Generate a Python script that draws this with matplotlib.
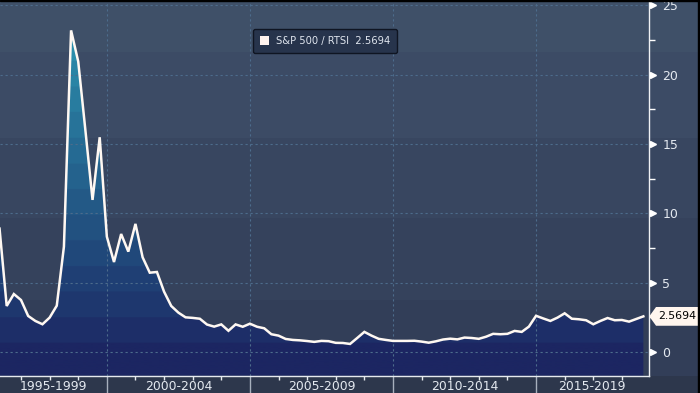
import numpy as np
import pandas as pd
import matplotlib
matplotlib.use('Agg')
import matplotlib.pyplot as plt
from matplotlib.path import Path
from matplotlib.patches import Patch, Rectangle
from matplotlib.ticker import MultipleLocator, FixedLocator, NullFormatter

# quarterly ratio S&P 500 / RTSI, 1996Q2 .. 2018Q4
quarters = pd.period_range('1996Q2', '2018Q4', freq='Q')
ratio = [8.9, 3.32, 4.18, 3.75, 2.60, 2.24, 2.00, 2.48, 3.34, 7.60,
         23.2, 20.95, 16.0, 10.97, 15.49, 8.32, 6.49, 8.51, 7.24, 9.24,
         6.83, 5.72, 5.77, 4.35, 3.32, 2.84, 2.50, 2.46, 2.40, 1.98,
         1.83, 1.99, 1.53, 1.99, 1.82, 2.04, 1.82, 1.71, 1.28, 1.18,
         0.94, 0.87, 0.84, 0.79, 0.73, 0.80, 0.78, 0.66, 0.65, 0.58,
         1.01, 1.45, 1.18, 0.95, 0.87, 0.80, 0.80, 0.80, 0.81, 0.75,
         0.67, 0.77, 0.90, 0.96, 0.91, 1.04, 1.01, 0.95, 1.10, 1.31,
         1.28, 1.31, 1.52, 1.45, 1.83, 2.61, 2.42, 2.24, 2.48, 2.79,
         2.40, 2.36, 2.29, 2.00, 2.24, 2.45, 2.29, 2.31, 2.19, 2.38,
         2.5694]
period_labels = ['1995-1999', '2000-2004', '2005-2009', '2010-2014', '2015-2019']
period_starts = [1995, 2000, 2005, 2010, 2015]
series_name = 'S&P 500 / RTSI'

x = np.array([p.year + (p.quarter - 1) / 4 for p in quarters])
y = np.array(ratio)
last = ratio[-1]

XMIN, XMAX = 1996.266, 2018.93
YMIN, YMAX = -1.71, 25.39

plt.rcParams['font.family'] = 'DejaVu Sans'
fig = plt.figure(figsize=(7, 3.93), dpi=100)

# banded background over the whole figure
bg = fig.add_axes([0, 0, 1, 1], zorder=-10)
bg.set_axis_off()
H = 393
rows = np.zeros((H, 1, 3))
bg_bands = [(0, 52, (63, 80, 104)), (52, 138, (60, 75, 101)), (138, 218, (56, 70, 96)),
            (218, 300, (53, 66, 92)), (300, 376, (50, 62, 88)), (376, 393, (45, 55, 76))]
for a, b, c in bg_bands:
    rows[a:b, 0, :] = np.array(c) / 255
bg.imshow(rows, extent=[0, 1, 0, 1], aspect='auto', origin='upper')
bg.set_xlim(0, 1)
bg.set_ylim(0, 1)
fig.patches.append(Rectangle((697.5 / 700, 0), 2.5 / 700, 1, transform=fig.transFigure,
                             color='black', zorder=5))
fig.patches.append(Rectangle((0, 392 / 393), 1, 1 / 393, transform=fig.transFigure,
                             color='black', zorder=5))

ax = fig.add_axes([0, 17.3 / 393, 648.5 / 700, 375.7 / 393])
ax.patch.set_alpha(0)
ax.set_xlim(XMIN, XMAX)
ax.set_ylim(YMIN, YMAX)

# area fill: horizontal banded gradient clipped by the series polygon
poly = ax.fill_between(x, y, YMIN, facecolor='none', edgecolor='none')
ny = 800
vals = np.linspace(YMIN, YMAX, ny)
band = np.where(vals < 0.67, 0, np.floor((vals - 0.67) / 1.85) + 1)
c_lo = np.array([28, 38, 98]) / 255
c_hi = np.array([44, 150, 178]) / 255
frac = np.clip(band / 13.0, 0, 1)
grad = (c_lo[None, :] * (1 - frac[:, None]) + c_hi[None, :] * frac[:, None])[:, None, :]
im = ax.imshow(grad, extent=[XMIN, XMAX, YMIN, YMAX], aspect='auto', origin='lower', zorder=1)
im.set_clip_path(poly.get_paths()[0], ax.transData)

ax.plot(x, y, color='#fff8f2', lw=1.8, zorder=3, solid_joinstyle='miter')

# grid
ax.set_axisbelow('line')
ax.yaxis.set_major_locator(MultipleLocator(5))
ax.yaxis.set_minor_locator(MultipleLocator(2.5))
ax.xaxis.set_major_locator(FixedLocator(period_starts[1:]))
ax.xaxis.set_minor_locator(MultipleLocator(1))
ax.xaxis.set_major_formatter(NullFormatter())
ax.grid(True, which='major', color='#4d6c8c', lw=0.8, ls=(0, (2, 2.5)))

for s in ['left', 'top']:
    ax.spines[s].set_visible(False)
ax.spines['right'].set_color('#f0f2f5')
ax.spines['bottom'].set_color('#e6eaef')
ax.spines['right'].set_linewidth(1)
ax.spines['bottom'].set_linewidth(1)

ax.yaxis.set_ticks_position('right')
ax.tick_params(axis='y', which='major', direction='out', length=3, width=1, color='white',
               labelcolor='#e4e9f0', labelsize=9, pad=7)
ax.tick_params(axis='y', which='minor', direction='out', length=4, width=1, color='white')
ax.tick_params(axis='x', which='major', direction='out', length=13, width=1, color='#a7b0bd')
ax.tick_params(axis='x', which='minor', direction='out', length=3, width=1, color='#e6eaef')

# little pennant heads on the y major ticks
yt = np.arange(0, 26, 5)
ax.plot(np.full(len(yt), 1.0) + 5 / 648.5, yt, ls='none', marker='>', ms=4.5,
        color='white', transform=ax.get_yaxis_transform(), clip_on=False, zorder=4)

# period labels centred on the visible part of each period
for lab, start in zip(period_labels, period_starts):
    lo, hi = max(start, XMIN), min(start + 5, XMAX)
    ax.text((lo + hi) / 2, -0.0275, lab, transform=ax.get_xaxis_transform(),
            ha='center', va='center', color='#e4e9f0', fontsize=8.9)


def pointer_box(x0, y0, width, height, mutation_size):
    padx = 0.2 * mutation_size
    pady = 0.4 * mutation_size
    x0, y0 = x0 - padx, y0 - pady
    x1, y1 = x0 + width + 2 * padx, y0 + height + 2 * pady
    tip = (y1 - y0) * 0.36
    return Path([(x0, y0), (x1, y0), (x1, y1), (x0, y1), (x0 - tip, (y0 + y1) / 2), (x0, y0)],
                closed=True)


ax.annotate(f'{last:.4f}', xy=(1, last), xycoords=('axes fraction', 'data'),
            xytext=(7.0, 0), textcoords='offset points', va='center', ha='left',
            fontsize=7.9, color='black', annotation_clip=False,
            bbox=dict(boxstyle=pointer_box, fc='#fff5ee', ec='none'), zorder=6)

leg = ax.legend(handles=[Patch(facecolor='#fff3ee', edgecolor='none',
                               label=f'{series_name}  {last:.4f}')],
                loc='upper left', bbox_to_anchor=(253 / 648.5, 1 - 29 / 375.7),
                borderaxespad=0, fontsize=7.2, handlelength=0.9, handleheight=0.9,
                handletextpad=0.7, borderpad=0.7, fancybox=True, framealpha=1)
leg.get_frame().set_facecolor('#27344c')
leg.get_frame().set_edgecolor('#0f1522')
leg.get_frame().set_linewidth(1)
for t in leg.get_texts():
    t.set_color('#dfe5ee')

fig.savefig('out.png', dpi=100)
